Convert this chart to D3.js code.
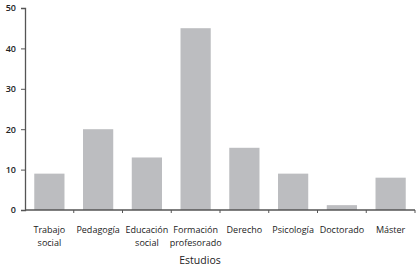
<!DOCTYPE html>
<html>
<head>
<meta charset="utf-8">
<script src="https://cdn.jsdelivr.net/npm/d3@7"></script>
<style>
  body { margin: 0; background: #fff; }
  svg text { font-family: "Open Sans", "Noto Sans", sans-serif; fill: #222; }
</style>
</head>
<body>
<div id="chart"></div>
<script>
// categories (two-line labels) and values
var categories = ["Trabajo social", "Pedagogía", "Educación social", "Formación profesorado", "Derecho", "Psicología", "Doctorado", "Máster"];
var labelLines = [["Trabajo", "social"], ["Pedagogía"], ["Educación", "social"], ["Formación", "profesorado"], ["Derecho"], ["Psicología"], ["Doctorado"], ["Máster"]];
var values = [9, 20, 13, 45, 15.4, 9, 1.2, 8];
var yTicks = [0, 10, 20, 30, 40, 50];

var width = 420, height = 268;
var margin = {top: 8, right: 5, bottom: 58, left: 25};

var svg = d3.select("#chart").append("svg")
    .attr("width", width)
    .attr("height", height);

var x = d3.scaleBand()
    .domain(categories)
    .range([margin.left, width - margin.right])
    .paddingInner(0.38)
    .paddingOuter(0.19);

var y = d3.scaleLinear()
    .domain([0, 50])
    .range([height - margin.bottom, margin.top]);

// bars
svg.append("g")
    .selectAll("rect")
    .data(values)
    .join("rect")
    .attr("x", (d, i) => x(categories[i]))
    .attr("y", d => y(d))
    .attr("width", x.bandwidth())
    .attr("height", d => y(0) - y(d))
    .attr("fill", "#bcbdc0");

// y axis
var yAxis = svg.append("g")
    .attr("transform", `translate(${margin.left},0)`)
    .call(d3.axisLeft(y).tickValues(yTicks).tickSize(4).tickPadding(5));
yAxis.select(".domain").attr("stroke", "#555").attr("stroke-width", 1.3);
yAxis.selectAll(".tick line").attr("stroke", "#555");
yAxis.selectAll(".tick text")
    .style("font-size", "9px")
    .style("font-weight", "600")
    .attr("fill", "#222");

// x axis: ticks sit between the bands
var step = x.step();
var bounds = d3.range(categories.length + 1).map(i => margin.left + i * step);
var xg = svg.append("g");
xg.append("line")
    .attr("x1", margin.left).attr("x2", width - margin.right)
    .attr("y1", y(0)).attr("y2", y(0))
    .attr("stroke", "#555").attr("stroke-width", 1.5);
xg.selectAll(".tk")
    .data(bounds.slice(1))
    .join("line")
    .attr("class", "tk")
    .attr("x1", d => d).attr("x2", d => d)
    .attr("y1", y(0)).attr("y2", y(0) + 3)
    .attr("stroke", "#555");

// category labels
var lab = svg.append("g")
    .attr("text-anchor", "middle")
    .style("font-size", "9px");
lab.selectAll("text")
    .data(categories)
    .join("text")
    .attr("x", d => x(d) + x.bandwidth() / 2)
    .attr("y", 230)
    .each(function(d, i) {
        var t = d3.select(this);
        labelLines[i].forEach((s, j) => {
            t.append("tspan")
                .attr("x", x(d) + x.bandwidth() / 2)
                .attr("dy", j === 0 ? "0.35em" : "13px")
                .text(s);
        });
    });

// axis title
svg.append("text")
    .attr("x", 200)
    .attr("y", 260)
    .attr("dy", "0.35em")
    .attr("text-anchor", "middle")
    .style("font-size", "10.5px")
    .style("font-weight", "500")
    .text("Estudios");
</script>
</body>
</html>
